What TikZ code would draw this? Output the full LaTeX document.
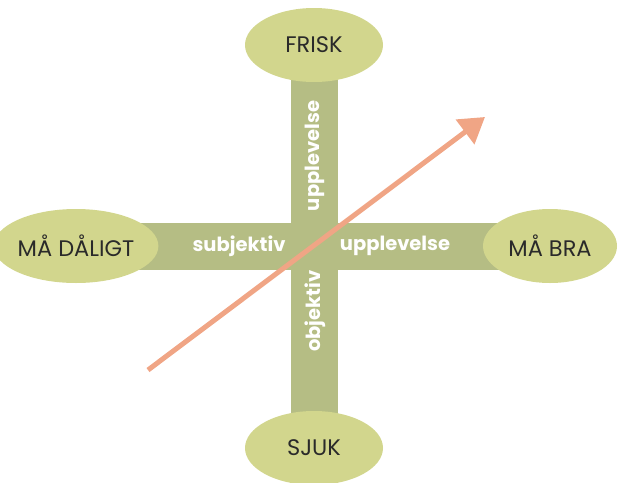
\documentclass[tikz,border=0pt]{standalone}
\usepackage{fontspec}
\setmainfont{Poppins}
\usepackage{tikz}
\usepackage{xcolor}
\usetikzlibrary{shapes.geometric,arrows.meta,backgrounds}

\definecolor{ovalgreen}{HTML}{D2D68D}
\definecolor{bargreen}{HTML}{B5BD84}
\definecolor{salmon}{HTML}{F0A585}
\definecolor{textgray}{HTML}{2A2A2A}

\begin{document}
\begin{tikzpicture}[
  x=1pt,y=-1pt,
  state/.style={ellipse,fill=ovalgreen,minimum width=138pt,minimum height=74pt,
    inner sep=0pt,text=textgray,font=\fontsize{22.5}{26}\selectfont},
  bar/.style={draw=bargreen,line width=47pt},
  barlabel/.style={text=white,font=\bfseries\fontsize{19.5}{22}\selectfont,inner sep=0pt},
  ]
  \useasboundingbox (0,0) rectangle (618,482);
  %Nodes
  \node[state](frisk) at (314,45){FRISK};
  \node[state](sjuk) at (314,448){SJUK};
  \node[state](daligt) at (76,246){MÅ DÅLIGT};
  \node[state,minimum width=134pt](bra) at (550,246){MÅ BRA};
  %Bars
  \begin{scope}[on background layer]
    \draw[bar] (frisk.center) -- (sjuk.center);
    \draw[bar] (daligt.center) -- (bra.center);
  \end{scope}
  %Labels
  \node[barlabel](subj) at (239,246){subjektiv};
  \node[barlabel](uppl) at (395,246){upplevelse};
  \node[barlabel,rotate=90](upplv) at (315,156){upplevelse};
  \node[barlabel,rotate=90](obj) at (315,311){objektiv};
  %Arrow
  \coordinate (start) at (148,370);
  \coordinate (goal) at (485,117);
  \draw[salmon,line width=5pt,-{Triangle[length=25pt,width=30pt]}] (start) -- (goal);
\end{tikzpicture}
\end{document}
